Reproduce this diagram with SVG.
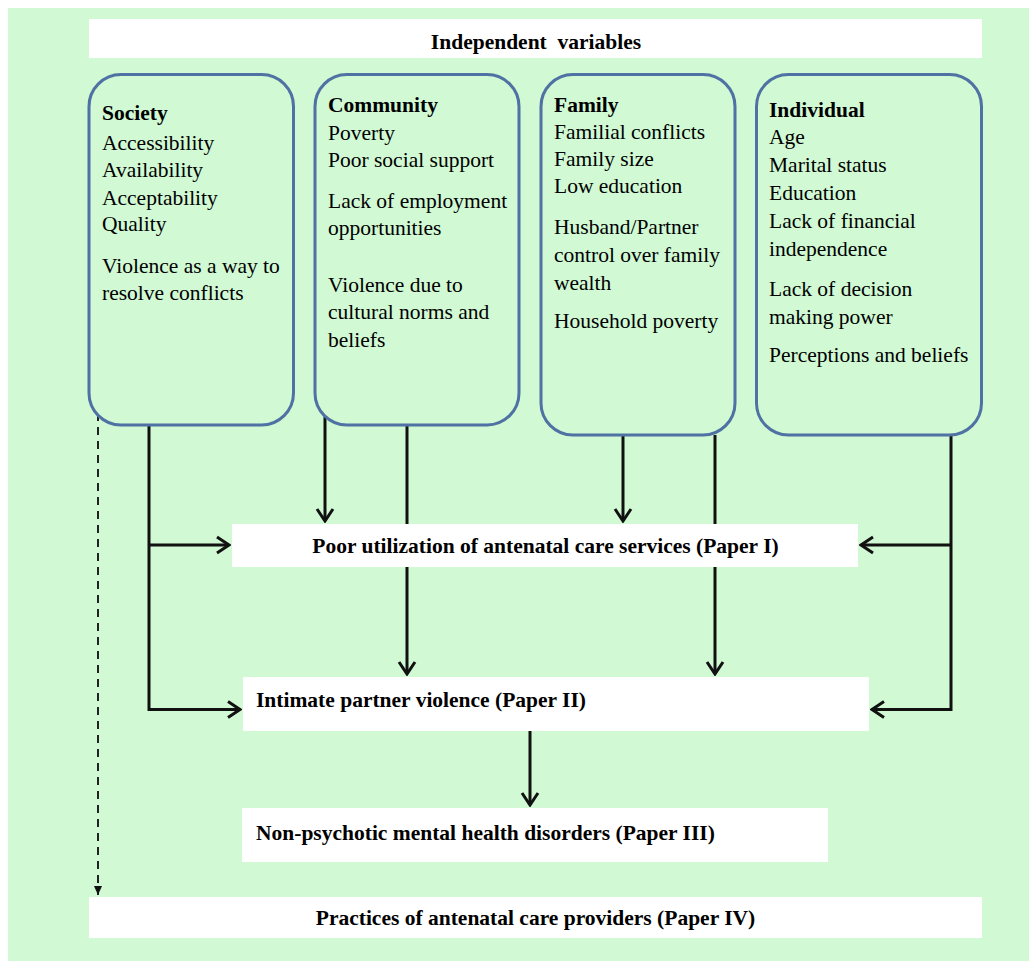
<svg xmlns="http://www.w3.org/2000/svg" width="1029" height="961" viewBox="0 0 1029 961">
<style>
.t{font-family:"Liberation Serif","Times New Roman",serif;font-size:21.5px;fill:#000}
.b{font-weight:bold}
.lvl{fill:#d0f9d4;stroke:#4f71a3;stroke-width:3}
.wbox{fill:#ffffff}
.ln{fill:none;stroke:#111;stroke-width:3}
.dash{fill:none;stroke:#222;stroke-width:2;stroke-dasharray:8 6}
</style>
<defs>
<marker id="arr" viewBox="-15 -10 17 20" refX="0" refY="0" markerUnits="userSpaceOnUse" markerWidth="17" markerHeight="20" orient="auto">
<path d="M-12,-8 L0,0 L-12,8" fill="none" stroke="#111" stroke-width="3"/>
</marker>
<marker id="tri" viewBox="-9 -5 10 10" refX="0" refY="0" markerUnits="userSpaceOnUse" markerWidth="10" markerHeight="10" orient="auto">
<path d="M-9,-4 L0,0 L-9,4 Z" fill="#111"/>
</marker>
</defs>
<rect x="8" y="8" width="1021" height="953" fill="#d0f9d4"/>

<g id="connectors">
<path class="ln" d="M149,425 V709.5 H240" marker-end="url(#arr)"/>
<path class="ln" d="M149,545 H229" marker-end="url(#arr)"/>
<path class="ln" d="M325,417 V521" marker-end="url(#arr)"/>
<path class="ln" d="M407,425 V524"/>
<path class="ln" d="M407,567 V674" marker-end="url(#arr)"/>
<path class="ln" d="M623,435 V521" marker-end="url(#arr)"/>
<path class="ln" d="M715,435 V524"/>
<path class="ln" d="M715,567 V674" marker-end="url(#arr)"/>
<path class="ln" d="M951,435 V709.5 H872" marker-end="url(#arr)"/>
<path class="ln" d="M951,545 H861" marker-end="url(#arr)"/>
<path class="ln" d="M530,731 V805" marker-end="url(#arr)"/>
<path class="dash" d="M98,413 V895" marker-end="url(#tri)"/>
</g>

<g id="independent">
<rect class="wbox" x="89" y="19" width="893" height="39"/>
<text class="t b" x="536" y="49" text-anchor="middle" xml:space="preserve">Independent  variables</text>
</g>

<g id="society">
<rect class="lvl" x="89" y="74.5" width="204.5" height="350.5" rx="32"/>
<text class="t b" x="102" y="120">Society</text>
<text class="t" x="102" y="150">Accessibility</text>
<text class="t" x="102" y="177">Availability</text>
<text class="t" x="102" y="205">Acceptability</text>
<text class="t" x="102" y="231">Quality</text>
<text class="t" x="102" y="273">Violence as a way to</text>
<text class="t" x="102" y="300">resolve conflicts</text>
</g>

<g id="community">
<rect class="lvl" x="315" y="74.5" width="204" height="350.5" rx="32"/>
<text class="t b" x="328" y="112">Community</text>
<text class="t" x="328" y="140">Poverty</text>
<text class="t" x="328" y="167">Poor social support</text>
<text class="t" x="328" y="208">Lack of employment</text>
<text class="t" x="328" y="235">opportunities</text>
<text class="t" x="328" y="292">Violence due to</text>
<text class="t" x="328" y="319">cultural norms and</text>
<text class="t" x="328" y="347">beliefs</text>
</g>

<g id="family">
<rect class="lvl" x="541" y="74.5" width="194" height="360.5" rx="32"/>
<text class="t b" x="554" y="112">Family</text>
<text class="t" x="554" y="139">Familial conflicts</text>
<text class="t" x="554" y="166">Family size</text>
<text class="t" x="554" y="193">Low education</text>
<text class="t" x="554" y="234">Husband/Partner</text>
<text class="t" x="554" y="262">control over family</text>
<text class="t" x="554" y="290">wealth</text>
<text class="t" x="554" y="328">Household poverty</text>
</g>

<g id="individual">
<rect class="lvl" x="756.5" y="74.5" width="225" height="360.5" rx="32"/>
<text class="t b" x="769" y="117">Individual</text>
<text class="t" x="769" y="144">Age</text>
<text class="t" x="769" y="172">Marital status</text>
<text class="t" x="769" y="200">Education</text>
<text class="t" x="769" y="228">Lack of financial</text>
<text class="t" x="769" y="256">independence</text>
<text class="t" x="769" y="296">Lack of decision</text>
<text class="t" x="769" y="324">making power</text>
<text class="t" x="769" y="362">Perceptions and beliefs</text>
</g>

<g id="anc-utilization">
<rect class="wbox" x="232" y="524" width="626" height="43"/>
<text class="t b" x="545.5" y="553" text-anchor="middle">Poor utilization of antenatal care services (Paper I)</text>
</g>

<g id="ipv">
<rect class="wbox" x="243" y="677" width="626" height="54"/>
<text class="t b" x="256" y="707">Intimate partner violence (Paper II)</text>
</g>

<g id="mental-health">
<rect class="wbox" x="242" y="808" width="586" height="54"/>
<text class="t b" x="256" y="840">Non-psychotic mental health disorders (Paper III)</text>
</g>

<g id="providers">
<rect class="wbox" x="89" y="897" width="893" height="41"/>
<text class="t b" x="535.5" y="925" text-anchor="middle">Practices of antenatal care providers (Paper IV)</text>
</g>
</svg>
